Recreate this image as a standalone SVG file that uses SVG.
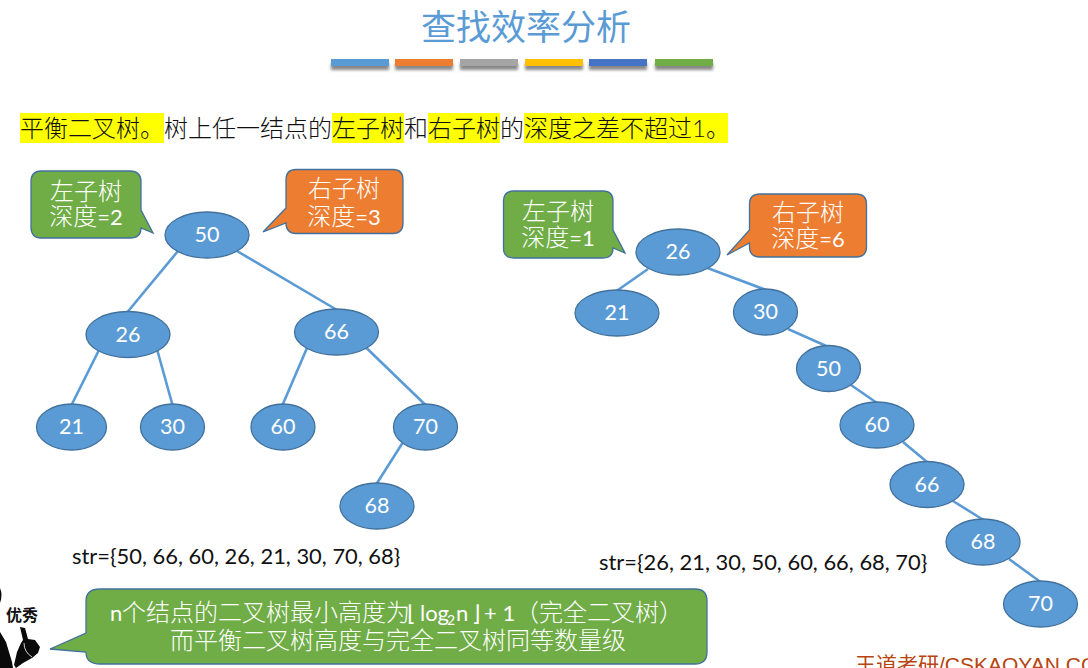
<svg xmlns="http://www.w3.org/2000/svg" width="1088" height="668" viewBox="0 0 1088 668">
<defs>
<filter id="sh" x="-10%" y="-50%" width="120%" height="250%"><feGaussianBlur stdDeviation="1.5"/></filter>
</defs>
<style>
text{font-family:"Lato","Noto Sans CJK SC",sans-serif}
.n ellipse{fill:#5b9bd5;stroke:#41719c;stroke-width:1.3}
.n text{fill:#fff;font-size:21.5px;text-anchor:middle}
.e line{stroke:#5b9bd5;stroke-width:2.6}
.c path{stroke:#41719c;stroke-width:1.3}
.c text{fill:#fff;font-size:24px;font-weight:300}
.c .m{text-anchor:middle}
.c .l{font-size:22px;font-weight:400}
.g path{fill:#70ad47}
.o path{fill:#ed7d31}
.hl{fill:#ffff00}
.t{font-size:24px;fill:#111;font-weight:300}
.s{font-size:21.9px;fill:#111}
.b{fill:#0a0a0a}
</style>
<rect width="1088" height="668" fill="#fff"/>
<text x="526" y="40" font-size="35" fill="#5b9bd5" text-anchor="middle" style="font-weight:400">查找效率分析</text>
<g id="bars">
<rect x="331" y="63" width="58" height="7" fill="#888" filter="url(#sh)"/><rect x="395" y="63" width="58" height="7" fill="#888" filter="url(#sh)"/><rect x="460" y="63" width="58" height="7" fill="#888" filter="url(#sh)"/><rect x="525" y="63" width="58" height="7" fill="#888" filter="url(#sh)"/><rect x="589" y="63" width="58" height="7" fill="#888" filter="url(#sh)"/><rect x="655" y="63" width="58" height="7" fill="#888" filter="url(#sh)"/>
<rect x="331" y="59" width="58" height="7" fill="#5b9bd5"/><rect x="395" y="59" width="58" height="7" fill="#ed7d31"/><rect x="460" y="59" width="58" height="7" fill="#a5a5a5"/><rect x="525" y="59" width="58" height="7" fill="#ffc000"/><rect x="589" y="59" width="58" height="7" fill="#4472c4"/><rect x="655" y="59" width="58" height="7" fill="#70ad47"/>
</g>
<g id="heading">
<rect class="hl" x="20" y="113" width="144" height="30"/><rect class="hl" x="332" y="113" width="72" height="30"/><rect class="hl" x="428" y="113" width="72" height="30"/><rect class="hl" x="524" y="113" width="204" height="30"/>
<text class="t" x="20" y="137">平衡二叉树。树上任一结点的左子树和右子树的深度之差不超过1。</text>
</g>
<g id="connectors" class="e">
<line x1="178" y1="251" x2="127.500" y2="312"/><line x1="237" y1="251" x2="337" y2="310"/><line x1="98.500" y1="351" x2="71.500" y2="405"/><line x1="157.500" y1="351" x2="172.500" y2="405"/><line x1="307" y1="348" x2="282.500" y2="405"/><line x1="366.500" y1="348" x2="425.500" y2="405"/><line x1="402.500" y1="443" x2="376.500" y2="484"/>
<line x1="648" y1="269" x2="616.500" y2="291"/><line x1="707.500" y1="268" x2="766" y2="290"/><line x1="788" y1="329" x2="828.500" y2="347"/><line x1="851" y1="385" x2="877" y2="403"/><line x1="903" y1="442" x2="927" y2="462"/><line x1="953" y1="501" x2="983.500" y2="520"/><line x1="1009" y1="559" x2="1040.500" y2="582"/>
</g>
<g id="t1n50" class="n"><ellipse cx="207" cy="235" rx="42" ry="23"/><text x="207" y="242">50</text></g>
<g id="t1n26" class="n"><ellipse cx="128" cy="334.500" rx="42" ry="23"/><text x="128" y="341.500">26</text></g>
<g id="t1n66" class="n"><ellipse cx="336.500" cy="332" rx="42" ry="23"/><text x="336.500" y="339">66</text></g>
<g id="t1n21" class="n"><ellipse cx="71.500" cy="427" rx="35" ry="23"/><text x="71.500" y="434">21</text></g>
<g id="t1n30" class="n"><ellipse cx="172.500" cy="427" rx="32" ry="23"/><text x="172.500" y="434">30</text></g>
<g id="t1n60" class="n"><ellipse cx="283" cy="427" rx="32" ry="23"/><text x="283" y="434">60</text></g>
<g id="t1n70" class="n"><ellipse cx="425.500" cy="427" rx="32" ry="23"/><text x="425.500" y="434">70</text></g>
<g id="t1n68" class="n"><ellipse cx="377" cy="506" rx="37" ry="23"/><text x="377" y="513">68</text></g>
<g id="t2n26" class="n"><ellipse cx="678" cy="252" rx="42" ry="23"/><text x="678" y="259">26</text></g>
<g id="t2n21" class="n"><ellipse cx="617" cy="313" rx="42" ry="23"/><text x="617" y="320">21</text></g>
<g id="t2n30" class="n"><ellipse cx="765.500" cy="312" rx="32" ry="23"/><text x="765.500" y="319">30</text></g>
<g id="t2n50" class="n"><ellipse cx="828.500" cy="368.500" rx="32" ry="23"/><text x="828.500" y="375.500">50</text></g>
<g id="t2n60" class="n"><ellipse cx="877" cy="425" rx="37" ry="23"/><text x="877" y="432">60</text></g>
<g id="t2n66" class="n"><ellipse cx="927" cy="484.500" rx="37" ry="23"/><text x="927" y="491.500">66</text></g>
<g id="t2n68" class="n"><ellipse cx="983" cy="542" rx="37" ry="23"/><text x="983" y="549">68</text></g>
<g id="t2n70" class="n"><ellipse cx="1040.500" cy="604" rx="37" ry="23"/><text x="1040.500" y="611">70</text></g>
<g id="c1" class="c g"><path d="M41 171H130Q141 171 141 182V210L153 233L141 228Q141 238 130 238H41Q31 238 31 227V182Q31 171 41 171Z"/><text class="m" x="86" y="200">左子树</text><text class="m" x="86" y="225">深度<tspan class="l">=2</tspan></text></g>
<g id="c2" class="c o"><path d="M296 169.500H393Q403 169.500 403 180V223Q403 233.500 393 233.500H296Q286 233.500 286 223L263 232L286 208V180Q286 169.500 296 169.500Z"/><text class="m" x="344" y="197">右子树</text><text class="m" x="344" y="225">深度<tspan class="l">=3</tspan></text></g>
<g id="c3" class="c g"><path d="M514 191H603Q613 191 613 201V230L625 253L613 248Q613 258 603 258H514Q503.500 258 503.500 248V201Q503.500 191 514 191Z"/><text class="m" x="558" y="220">左子树</text><text class="m" x="558" y="246">深度<tspan class="l">=1</tspan></text></g>
<g id="c4" class="c o"><path d="M760 194H856Q866.500 194 866.500 204V247Q866.500 257 856 257H760Q749.500 257 749.500 247V243L727 255L749.500 230V204Q749.500 194 760 194Z"/><text class="m" x="808" y="221">右子树</text><text class="m" x="808" y="247">深度<tspan class="l">=6</tspan></text></g>
<text class="s" x="72" y="564">str={50, 66, 60, 26, 21, 30, 70, 68}</text>
<text class="s" x="599" y="570">str={26, 21, 30, 50, 60, 66, 68, 70}</text>
<g id="figure">
<path class="b" d="M0 588Q3 595 0 603Z"/>
<path class="b" d="M0 632L6 642L12 662L13 668H0Z"/>
<path class="b" d="M20 627L25 628L28 639L35 640L40 647L38 653L32 658L23 663L16 668L14 665L17 652L21 643L23 640Z"/>
<path d="M24 643Q24 652 32 657" fill="none" stroke="#fff" stroke-width="0.8"/>
<text x="22" y="621" font-size="16" font-weight="700" fill="#111" text-anchor="middle">优秀</text>
</g>
<g id="c5" class="c g"><path d="M100 589H695Q707 589 707 601V652Q707 664 695 664H100Q86 664 86 652L50 649L86 633V601Q86 589 100 589Z"/>
<text y="621"><tspan class="l" x="110">n</tspan><tspan x="122">个结点的二叉树最小高度为</tspan><tspan class="l" x="407">⌊</tspan><tspan class="l" x="420">log</tspan><tspan class="l" x="447" dy="4" style="font-size:14px">2</tspan><tspan class="l" x="456" dy="-4">n</tspan><tspan class="l" x="472">⌋</tspan><tspan class="l" x="484">+ 1</tspan><tspan x="515">（完全二叉树）</tspan></text>
<text x="170" y="649">而平衡二叉树高度与完全二叉树同等数量级</text></g>
<text x="855" y="672" font-size="21" fill="#b8440f" style="font-family:'Liberation Sans','Noto Sans CJK SC',sans-serif">王道考研/CSKAOYAN.COM</text>
</svg>
